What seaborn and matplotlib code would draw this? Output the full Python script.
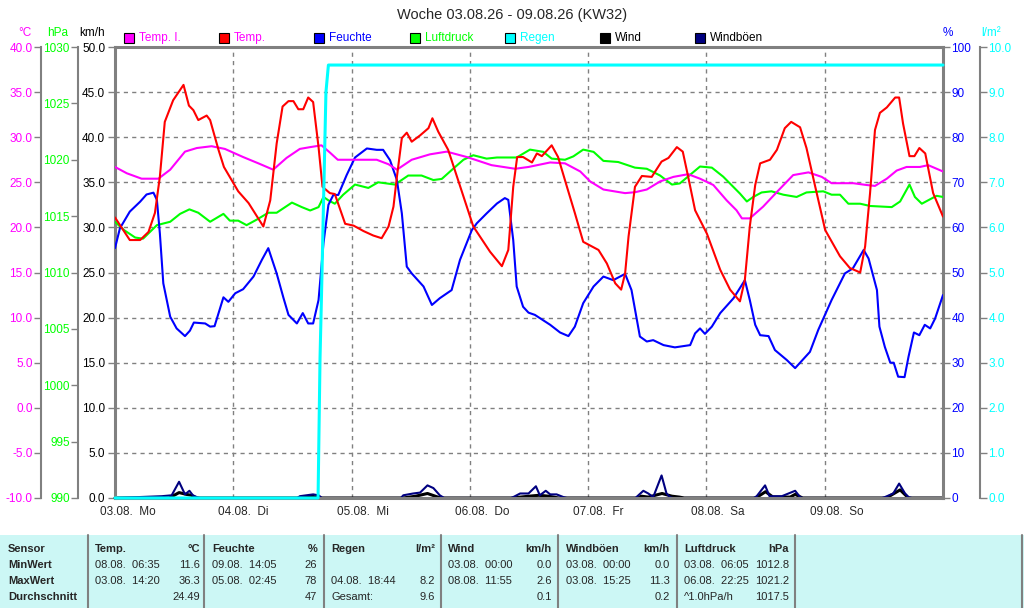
import numpy as np
import pandas as pd
import seaborn as sns
import matplotlib.pyplot as plt
import matplotlib.transforms as mtransforms
from matplotlib.patches import Rectangle
from matplotlib.ticker import FormatStrFormatter

# Stunden ab 03.08. 00:00, eine Woche
temp_t = [0, 3.0, 5.1, 6.8, 8.1, 9.1, 10.1, 11.8, 13.9, 15.0,
          15.9, 16.9, 18.6, 19.3, 21.0, 22.1, 25.0, 27.1, 30.1, 31.5,
          32.8, 34.0, 35.2, 36.2, 37.2, 38.2, 39.2, 40.2, 41.3, 42.1,
          43.6, 44.6, 46.7, 48.4, 50.4, 52.4, 54.1, 55.5, 56.5, 57.2,
          58.2, 59.2, 60.2, 61.9, 63.6, 64.4, 65.6, 67.6, 70.3, 72.7,
          76.1, 78.5, 79.8, 80.8, 81.6, 82.8, 84.6, 85.6, 86.6, 88.6,
          89.9, 91.7, 93.3, 95.0, 98.1, 99.8, 101.5, 102.7, 103.5, 104.2,
          105.5, 106.9, 108.9, 110.9, 112.3, 114.0, 115.2, 116.3, 117.7, 120.1,
          122.8, 124.8, 126.8, 127.8, 128.8, 129.9, 130.9, 132.9, 134.3, 135.9,
          137.2, 139.0, 140.3, 142.0, 144.1, 147.1, 149.1, 151.2, 152.2, 153.2,
          154.2, 155.2, 156.6, 158.3, 159.1, 159.9, 161.2, 162.2, 163.2, 164.4,
          166.0, 168.0]
temp_c = [21.1, 18.6, 18.6, 19.5, 21.6, 25.6, 31.7, 34.1, 35.8, 33.5,
          33.0, 31.9, 32.4, 31.9, 28.6, 26.7, 24.0, 22.7, 20.1, 23.0,
          29.3, 33.4, 34.0, 34.0, 33.1, 33.1, 34.4, 33.9, 28.9, 24.5,
          23.8, 23.7, 20.4, 20.2, 19.6, 19.1, 18.8, 20.1, 22.3, 25.6,
          29.9, 30.5, 29.5, 30.2, 31.0, 32.1, 30.6, 28.6, 24.1, 20.1,
          17.3, 15.7, 17.5, 24.5, 27.8, 27.8, 27.2, 28.2, 27.9, 29.1,
          27.8, 24.5, 21.6, 18.4, 17.5, 16.0, 13.8, 13.1, 14.9, 19.0,
          24.5, 25.7, 25.6, 27.3, 27.7, 28.9, 28.4, 25.6, 21.9, 19.3,
          15.3, 13.1, 11.8, 14.2, 20.1, 24.7, 27.1, 27.5, 28.6, 31.0,
          31.7, 31.1, 28.8, 24.7, 19.7, 16.8, 15.5, 15.0, 17.9, 23.8,
          30.8, 32.7, 33.3, 34.4, 34.4, 31.5, 27.9, 27.9, 28.8, 28.2,
          23.8, 21.2]

tempi_t = [0, 2.4, 5.4, 8.8, 11.2, 14.2, 16.6, 19.6, 22.3, 26.0,
           29.1, 32.1, 34.8, 37.5, 39.6, 41.9, 43.6, 45.2, 48.4, 53.1,
           55.5, 57.2, 60.2, 63.9, 67.3, 71.4, 76.4, 81.2, 83.9, 88.3,
           91.3, 94.4, 96.4, 99.1, 103.5, 105.5, 107.9, 110.6, 113.3, 116.3,
           118.7, 121.4, 124.1, 126.1, 127.2, 128.8, 131.5, 134.6, 137.6, 140.7,
           143.4, 145.4, 149.8, 152.5, 154.2, 156.6, 158.6, 160.6, 163.3, 165.0,
           168.0]
tempi_c = [26.7, 26.0, 25.4, 25.4, 26.4, 28.4, 28.8, 29.0, 28.7, 27.8,
           27.1, 26.4, 27.7, 28.7, 28.9, 29.1, 28.3, 27.5, 27.5, 27.5,
           27.0, 26.4, 27.5, 28.1, 28.4, 27.8, 26.9, 26.5, 26.7, 27.2,
           27.1, 26.2, 25.1, 24.2, 23.8, 23.9, 24.2, 25.1, 25.6, 25.9,
           25.4, 24.7, 23.0, 21.9, 21.0, 21.0, 22.3, 24.1, 25.8, 26.1,
           25.6, 24.9, 24.9, 24.7, 24.6, 25.4, 26.3, 26.7, 26.7, 26.9,
           26.2]

hum_t = [0, 1.0, 3.0, 5.1, 6.4, 7.8, 8.5, 9.1, 9.8, 11.2,
         12.5, 14.2, 15.2, 16.0, 18.3, 19.3, 20.2, 22.0, 23.0, 24.4,
         26.0, 28.1, 29.8, 31.1, 32.8, 34.2, 35.2, 36.9, 38.1, 39.2,
         40.2, 41.3, 42.3, 43.3, 44.3, 45.3, 47.0, 48.7, 51.1, 53.1,
         54.4, 55.8, 57.2, 58.2, 59.2, 60.2, 62.6, 64.3, 65.9, 68.3,
         70.0, 72.4, 73.4, 75.4, 77.5, 79.1, 79.8, 80.8, 81.5, 82.8,
         83.9, 85.2, 88.3, 90.3, 92.0, 93.3, 95.0, 97.1, 99.1, 101.1,
         103.5, 104.8, 106.5, 107.9, 109.2, 111.3, 113.6, 116.7, 117.7, 118.7,
         119.7, 121.1, 122.8, 125.5, 127.8, 128.8, 129.9, 130.9, 132.6, 133.9,
         136.3, 138.0, 141.0, 142.7, 145.4, 148.1, 149.7, 151.9, 152.9, 154.6,
         155.1, 156.2, 157.3, 158.0, 158.9, 160.2, 161.0, 162.1, 163.2, 164.3,
         165.4, 166.4, 168.0]
hum_pct = [55.4, 59.8, 63.5, 65.7, 67.3, 67.7, 66.1, 58.7, 47.6, 40.2,
           37.6, 35.9, 37.1, 38.9, 38.7, 38.0, 38.1, 44.5, 43.5, 45.4,
           46.3, 49.1, 52.8, 55.4, 49.8, 44.3, 40.6, 38.7, 41.0, 38.7,
           38.7, 43.9, 56.5, 65.0, 67.2, 67.2, 71.6, 75.5, 77.5, 77.2,
           77.2, 74.9, 70.5, 63.1, 51.3, 49.8, 46.9, 42.8, 44.3, 46.1,
           52.8, 59.4, 60.9, 63.1, 65.3, 66.5, 66.1, 57.2, 46.9, 42.4,
           41.1, 40.6, 38.4, 36.7, 35.9, 38.0, 43.2, 46.9, 49.1, 48.3,
           49.7, 46.1, 35.8, 34.7, 35.0, 33.9, 33.4, 33.9, 36.5, 37.6,
           36.4, 38.0, 41.0, 44.3, 48.3, 43.9, 38.4, 36.1, 35.9, 32.8,
           30.6, 28.8, 32.4, 37.3, 43.9, 49.8, 50.9, 55.0, 53.1, 46.1,
           38.0, 33.5, 30.0, 30.0, 26.9, 26.8, 31.3, 36.7, 36.1, 38.4,
           37.6, 39.8, 45.0]

press_t = [0, 1.7, 4.1, 5.7, 8.5, 11.2, 13.2, 15.1, 16.9, 19.3,
           22.0, 23.3, 25.0, 26.7, 28.8, 31.1, 32.8, 35.9, 37.9, 39.6,
           41.3, 42.3, 43.3, 44.6, 46.3, 48.7, 51.4, 53.4, 56.8, 59.5,
           62.2, 64.6, 66.3, 68.6, 70.7, 72.7, 75.4, 77.5, 81.5, 84.2,
           86.9, 88.6, 91.3, 93.0, 95.0, 97.1, 99.1, 102.1, 105.5, 107.9,
           110.6, 113.0, 114.6, 118.7, 121.1, 123.4, 126.8, 128.2, 129.5, 131.2,
           133.2, 135.6, 138.3, 140.3, 143.7, 145.4, 147.1, 148.8, 151.2, 153.2,
           157.6, 159.3, 161.2, 162.3, 163.7, 165.4, 166.7, 168.0]
press_hpa = [1014.5, 1013.8, 1013.1, 1013.0, 1014.2, 1014.5, 1015.2, 1015.6, 1015.3, 1014.5,
             1015.2, 1014.6, 1014.6, 1014.2, 1014.7, 1015.3, 1015.3, 1016.2, 1015.8, 1015.5,
             1015.8, 1016.7, 1016.4, 1016.1, 1016.9, 1017.8, 1017.5, 1018.0, 1017.8, 1018.6,
             1018.6, 1018.2, 1018.3, 1019.2, 1020.0, 1020.4, 1020.1, 1020.2, 1020.2, 1020.9,
             1020.7, 1020.1, 1020.0, 1020.3, 1020.9, 1020.7, 1019.9, 1019.8, 1019.3, 1019.2,
             1018.6, 1017.8, 1017.9, 1019.4, 1019.3, 1018.5, 1017.0, 1016.3, 1016.7, 1017.1,
             1017.2, 1016.9, 1016.7, 1017.1, 1017.2, 1016.9, 1016.9, 1016.1, 1016.1, 1015.9,
             1015.8, 1016.3, 1017.8, 1016.7, 1016.1, 1016.5, 1016.8, 1016.7]

rain_t = [0, 41.2, 41.6, 41.9, 42.3, 42.8, 43.3, 168.0]
rain_lm2 = [0, 0, 3.1, 4.5, 6.5, 9.0, 9.6, 9.6]

gust_t = [0, 9.5, 11.5, 13.0, 14.2, 15.1, 15.8, 16.6, 17.2, 37.0,
          37.5, 40.2, 41.3, 42.0, 58.0, 58.5, 60.5, 61.9, 63.4, 64.6,
          65.9, 66.8, 80.3, 80.8, 82.2, 83.9, 85.4, 86.2, 87.4, 88.3,
          89.6, 91.0, 91.7, 105.6, 106.2, 107.2, 108.2, 109.2, 110.9, 111.9,
          112.6, 113.2, 129.6, 130.2, 131.9, 132.8, 135.3, 138.0, 139.0, 139.6,
          155.6, 156.2, 157.9, 159.1, 160.3, 161.0, 161.7, 168.0]
gust_kmh = [0, 0.2, 0.3, 1.8, 0.4, 0.8, 0.3, 0.1, 0, 0,
            0.2, 0.4, 0.3, 0, 0, 0.3, 0.5, 0.6, 1.4, 1.1,
            0.3, 0, 0, 0.1, 0.5, 0.5, 1.3, 0.3, 0.8, 0.4,
            0.4, 0.1, 0, 0, 0.3, 0.8, 0.5, 0.1, 2.5, 0.5,
            0.1, 0, 0, 0.2, 1.4, 0.2, 0.2, 0.8, 0.1, 0,
            0, 0.1, 0.5, 1.6, 0.5, 0.1, 0, 0]

wind_t = [0, 11.0, 12.0, 13.0, 14.5, 15.5, 16.5, 37.5, 40.0, 41.5,
          58.5, 61.0, 63.4, 65.5, 66.5, 80.5, 84.0, 86.0, 88.0, 90.0,
          106.0, 106.8, 108.2, 111.0, 113.0, 114.5, 115.5, 130.0, 132.0, 133.5,
          137.0, 138.0, 139.5, 156.5, 159.3, 161.0, 168.0]
wind_kmh = [0, 0, 0.3, 0.6, 0.4, 0.3, 0, 0, 0.2, 0,
            0, 0.2, 0.5, 0.1, 0, 0, 0.2, 0.3, 0.2, 0,
            0, 0.2, 0.1, 0.5, 0.2, 0.1, 0, 0, 0.7, 0.1,
            0.1, 0.4, 0, 0, 0.9, 0, 0]

day_labels = ['03.08.  Mo', '04.08.  Di', '05.08.  Mi', '06.08.  Do',
              '07.08.  Fr', '08.08.  Sa', '09.08.  So']

title = 'Woche 03.08.26 - 09.08.26 (KW32)'
legend_names = ['Temp. I.', 'Temp.', 'Feuchte', 'Luftdruck', 'Regen', 'Wind', 'Windböen']

# Tabelle unten
tab_heads = [('Temp.', '°C'), ('Feuchte', '%'), ('Regen', 'l/m²'), ('Wind', 'km/h'),
             ('Windböen', 'km/h'), ('Luftdruck', 'hPa')]
tab_rows = ['MinWert', 'MaxWert', 'Durchschnitt']
tab_when = [['08.08.  06:35', '03.08.  14:20', ''],
            ['09.08.  14:05', '05.08.  02:45', ''],
            ['', '04.08.  18:44', 'Gesamt:'],
            ['03.08.  00:00', '08.08.  11:55', ''],
            ['03.08.  00:00', '03.08.  15:25', ''],
            ['03.08.  06:05', '06.08.  22:25', '^1.0hPa/h']]
tab_vals = [['11.6', '36.3', '24.49'],
            ['26', '78', '47'],
            ['', '8.2', '9.6'],
            ['0.0', '2.6', '0.1'],
            ['0.0', '11.3', '0.2'],
            ['1012.8', '1021.2', '1017.5']]

C_TI, C_T, C_H, C_P, C_R, C_W, C_G = '#ff00ff', '#ff0000', '#0000ff', '#00ff00', '#00ffff', '#000000', '#000080'
GREY = '#808080'

sns.set_style('white')
plt.rcParams['font.family'] = ['Liberation Sans', 'DejaVu Sans']
plt.rcParams['font.size'] = 8.5

W, H = 1024, 608
fig = plt.figure(figsize=(W / 100, H / 100), dpi=100)


def fx(px):
    return px / W


def fy(py):
    return 1 - py / H


ax = fig.add_axes([fx(115), fy(498), (943 - 115) / W, (498 - 47) / H])
ax.set_xlim(0, 168)
ax.set_ylim(0, 50)
ax.set_yticks(np.arange(0, 50.1, 5))
ax.yaxis.set_major_formatter(FormatStrFormatter('%.1f'))
day_pos = np.arange(0, 168, 24)
ax.set_xticks(day_pos)
ax.set_xticklabels([])
ax.tick_params(axis='both', colors=GREY, labelcolor='black', length=5, width=1,
               direction='out', pad=2, labelsize=8.5)
# Tagesbeschriftung beginnt etwas links vom Tagesstrich
lab_tr = mtransforms.blended_transform_factory(ax.transData, ax.transAxes) + \
    mtransforms.ScaledTranslation(-15 / 100, -14 / 100, fig.dpi_scale_trans)
for d, lab in zip(day_pos, day_labels):
    ax.text(d, 0, lab, transform=lab_tr, ha='left', va='center', fontsize=8.5, clip_on=False)
ax.grid(True, color=GREY, linestyle=(0, (3, 3)), linewidth=1)
for s in ax.spines.values():
    s.set_color(GREY)
    s.set_linewidth(2.2)


def extra_axis(side, pos, lo, hi, step, fmt, color, show_spine=True):
    a = ax.twinx()
    a.set_ylim(lo, hi)
    for s in a.spines.values():
        s.set_visible(False)
    sp = a.spines[side]
    sp.set_visible(show_spine)
    sp.set_position(('axes', pos))
    sp.set_color(GREY)
    sp.set_linewidth(1.5)
    a.yaxis.set_ticks_position(side)
    a.set_yticks(np.arange(lo, hi + step / 2, step))
    a.yaxis.set_major_formatter(FormatStrFormatter(fmt))
    a.tick_params(axis='y', colors=GREY, labelcolor=color, length=5, width=1,
                  direction='out', pad=1, labelsize=8.5)
    a.grid(False)
    return a


ax_p = extra_axis('left', -0.0447, 990, 1030, 5, '%d', C_P)
ax_h = extra_axis('right', 1.0, 0, 100, 10, '%d', C_H, show_spine=False)
ax_ti = extra_axis('left', -0.0894, -10, 40, 5, '%.1f', C_TI)
ax_t = ax.twinx()
ax_t.set_ylim(-10, 40)
ax_t.axis('off')
ax_r = extra_axis('right', 1.0447, 0, 10, 1, '%.1f', C_R)

lw = 1.5
sns.lineplot(x=wind_t, y=wind_kmh, ax=ax, color=C_W, linewidth=2.2, estimator=None, sort=False)
sns.lineplot(x=gust_t, y=gust_kmh, ax=ax, color=C_G, linewidth=lw, estimator=None, sort=False)
sns.lineplot(x=press_t, y=press_hpa, ax=ax_p, color=C_P, linewidth=lw, estimator=None, sort=False)
sns.lineplot(x=hum_t, y=hum_pct, ax=ax_h, color=C_H, linewidth=lw, estimator=None, sort=False)
sns.lineplot(x=tempi_t, y=tempi_c, ax=ax_ti, color=C_TI, linewidth=lw, estimator=None, sort=False)
sns.lineplot(x=temp_t, y=temp_c, ax=ax_t, color=C_T, linewidth=lw, estimator=None, sort=False)
sns.lineplot(x=rain_t, y=rain_lm2, ax=ax_r, color=C_R, linewidth=2.2, estimator=None, sort=False)
for a in (ax, ax_r):
    for ln in a.lines:
        ln.set_clip_on(False)
for a in (ax_p, ax_h, ax_ti, ax_t, ax_r):
    a.set_xlim(0, 168)
    a.set_ylabel('')
ax.set_ylabel('')
ax.set_xlabel('')

# Titel, Einheiten
fig.text(0.5, fy(15), title, ha='center', va='center', fontsize=10.5)
for txt, x, c in [('°C', 25, C_TI), ('hPa', 58, C_P), ('km/h', 92, 'black'),
                  ('%', 948, C_H), ('l/m²', 991, C_R)]:
    fig.text(fx(x), fy(33), txt, ha='center', va='center', color=c, fontsize=8.5)

# Legende
sq_col = [C_TI, C_T, C_H, C_P, C_R, C_W, C_G]
txt_col = [C_TI, C_TI, C_H, C_P, C_R, 'black', 'black']
for i, name in enumerate(legend_names):
    x0 = 124 + i * 95.2
    fig.patches.append(Rectangle((fx(x0), fy(43)), 10 / W, 10 / H, transform=fig.transFigure,
                                 facecolor=sq_col[i], edgecolor='black', linewidth=0.8))
    fig.text(fx(x0 + 15), fy(38), name, ha='left', va='center', color=txt_col[i], fontsize=8.5)

# Statistik-Tabelle
fig.patches.append(Rectangle((0, 0), 1, 73 / H, transform=fig.transFigure,
                             facecolor='#ccf7f5', edgecolor='none', zorder=0))
for x in [88, 204, 324, 441, 558, 677, 795, 1022]:
    fig.add_artist(plt.Line2D([fx(x), fx(x)], [0, 73 / H], transform=fig.transFigure,
                              color=GREY, linewidth=1.5))
row_y = [549, 565, 581, 597]
fig.text(fx(8), fy(row_y[0]), 'Sensor', ha='left', va='center', fontsize=8, fontweight='bold')
for j, r in enumerate(tab_rows):
    fig.text(fx(8), fy(row_y[j + 1]), r, ha='left', va='center', fontsize=8, fontweight='bold')
col_left = [95, 212, 331, 448, 566, 684]
col_right = [200, 317, 435, 552, 670, 789]
for k, (head, unit) in enumerate(tab_heads):
    fig.text(fx(col_left[k]), fy(row_y[0]), head, ha='left', va='center', fontsize=8, fontweight='bold')
    fig.text(fx(col_right[k]), fy(row_y[0]), unit, ha='right', va='center', fontsize=8, fontweight='bold')
    for j in range(3):
        fig.text(fx(col_left[k]), fy(row_y[j + 1]), tab_when[k][j], ha='left', va='center', fontsize=8)
        fig.text(fx(col_right[k]), fy(row_y[j + 1]), tab_vals[k][j], ha='right', va='center', fontsize=8)

fig.savefig('out.png', dpi=100)
